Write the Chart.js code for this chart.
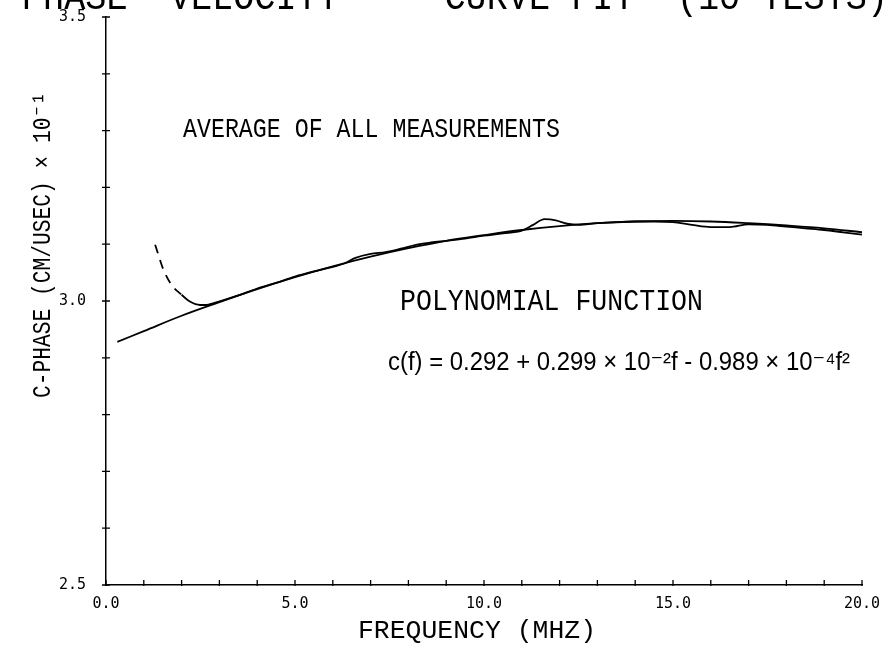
<!DOCTYPE html>
<html>
<head>
<meta charset="utf-8">
<title>Phase velocity - curve fit</title>
<script src="https://cdn.jsdelivr.net/npm/chart.js@4/dist/chart.umd.min.js"></script>
<style>
    html, body { margin: 0; padding: 0; background: #fff; }
    #wrap { width: 890px; height: 649px; position: relative; }
</style>
</head>
<body>
<div id="wrap"><canvas id="phaseChart"></canvas></div>
<script>
// Polynomial fit curve
const fitFreq = [0.3, 1, 2, 3, 4, 5, 6, 7, 8, 9, 10, 11, 12, 13, 14, 15, 16, 17, 18, 19, 20];
const fitVel = [2.928, 2.947, 2.974, 2.998, 3.021, 3.042, 3.061, 3.078, 3.093, 3.106, 3.116,
                3.125, 3.132, 3.137, 3.140, 3.141, 3.140, 3.137, 3.133, 3.128, 3.121];

// Average of all measurements
const avgFreq = [1.3, 1.52, 1.74, 2.0, 2.22, 2.49, 2.66, 2.83, 3.5, 4.0, 4.5, 5.0, 5.5, 6.0, 6.3,
                 6.6, 7.0, 7.4, 7.8, 8.2, 8.6, 9.0, 9.5, 10.0, 10.5, 11.0, 11.3, 11.6, 11.9, 12.2,
                 12.5, 13.0, 13.5, 14.0, 14.5, 15.0, 15.5, 16.0, 16.5, 17.0, 17.5, 18.0, 18.5,
                 19.0, 19.5, 20.0];
const avgVel = [3.099, 3.055, 3.028, 3.011, 2.999, 2.993, 2.993, 2.996, 3.010, 3.022, 3.032, 3.043,
                3.052, 3.060, 3.066, 3.076, 3.083, 3.086, 3.092, 3.099, 3.103, 3.106, 3.110, 3.115,
                3.119, 3.124, 3.134, 3.144, 3.142, 3.136, 3.134, 3.137, 3.139, 3.140, 3.140, 3.139,
                3.134, 3.130, 3.130, 3.135, 3.134, 3.131, 3.128, 3.125, 3.121, 3.117];
const dashedUntil = 2.0;

// Axis ticks
const xTickLabels = { 0: '0.0', 5: '5.0', 10: '10.0', 15: '15.0', 20: '20.0' };
const yTickLabels = { '2.5': '2.5', '3.0': '3.0', '3.5': '3.5' };

const MONO = '"Liberation Mono", "DejaVu Sans Mono", monospace';
const TICKFONT = '"DejaVu Sans Mono", monospace';
const SANS = '"Liberation Sans", "DejaVu Sans", sans-serif';

function toPoints(xs, ys) {
    return xs.map((x, i) => ({ x: x, y: ys[i] }));
}

// draw text at a given size, squeezed/stretched horizontally to span width
function drawFit(ctx, text, x, y, width, size, family) {
    ctx.font = size + 'px ' + family;
    const w = ctx.measureText(text).width;
    ctx.save();
    ctx.translate(x, y);
    ctx.scale(width / w, 1);
    ctx.fillText(text, 0, 0);
    ctx.restore();
}

const annotations = {
    id: 'annotations',
    afterDraw(chart) {
        const ctx = chart.ctx;
        const xs = chart.scales.x;
        const ys = chart.scales.y;
        ctx.save();
        ctx.fillStyle = '#000';
        ctx.strokeStyle = '#000';
        ctx.textBaseline = 'alphabetic';
        ctx.textAlign = 'left';

        // tick marks crossing the axes
        ctx.lineWidth = 1.3;
        ctx.beginPath();
        xs.ticks.forEach(t => {
            const px = xs.getPixelForValue(t.value);
            ctx.moveTo(px, ys.bottom + 1);
            ctx.lineTo(px, ys.bottom - 5);
        });
        ys.ticks.forEach(t => {
            const py = ys.getPixelForValue(t.value);
            ctx.moveTo(xs.left - 4, py);
            ctx.lineTo(xs.left + 4, py);
        });
        ctx.stroke();

        // title, cut off at the top edge
        drawFit(ctx, 'PHASE  VELOCITY  -  CURVE FIT  (10 TESTS)', 22, 9, 866, 38, MONO);

        drawFit(ctx, 'AVERAGE OF ALL MEASUREMENTS', 183, 137, 377, 27, MONO);
        drawFit(ctx, 'POLYNOMIAL FUNCTION', 400, 310, 303, 29, MONO);
        drawFit(ctx, 'c(f) = 0.292 + 0.299 \u00d7 10\u207b\u00b2f - 0.989 \u00d7 10\u207b\u2074f\u00b2', 388, 370, 462, 25, SANS);
        drawFit(ctx, 'FREQUENCY (MHZ)', 358, 638, 238, 26, MONO);

        // rotated y axis title
        ctx.translate(50, 398);
        ctx.rotate(-Math.PI / 2);
        drawFit(ctx, 'C-PHASE (CM/USEC) \u00d7 10\u207b\u00b9', 0, 0, 306, 26, MONO);
        ctx.restore();
    }
};

const ctx = document.getElementById('phaseChart');

new Chart(ctx, {
    type: 'line',
    data: {
        datasets: [
            {
                label: 'Polynomial function',
                data: toPoints(fitFreq, fitVel),
                borderColor: '#000',
                borderWidth: 1.8,
                pointRadius: 0,
                tension: 0.4,
                fill: false
            },
            {
                label: 'Average of all measurements',
                data: toPoints(avgFreq, avgVel),
                borderColor: '#000',
                borderWidth: 1.8,
                pointRadius: 0,
                cubicInterpolationMode: 'monotone',
                fill: false,
                segment: {
                    borderDash: c => c.p1.parsed.x <= dashedUntil ? [9, 7] : undefined
                }
            }
        ]
    },
    options: {
        responsive: true,
        maintainAspectRatio: false,
        animation: false,
        layout: { autoPadding: false, padding: { top: 17, right: 28, left: 0, bottom: 0 } },
        plugins: {
            legend: { display: false },
            tooltip: { enabled: false }
        },
        scales: {
            x: {
                type: 'linear',
                min: 0,
                max: 20,
                afterFit: s => { s.height = 64; s.paddingLeft = 0; s.paddingRight = 0; },
                border: { display: true, color: '#000', width: 1.5 },
                grid: { drawOnChartArea: false, drawTicks: false },
                ticks: {
                    stepSize: 1,
                    autoSkip: false,
                    maxRotation: 0,
                    padding: 10,
                    color: '#000',
                    font: { family: TICKFONT, size: 15 },
                    callback: v => xTickLabels[v] || ''
                }
            },
            y: {
                type: 'linear',
                min: 2.5,
                max: 3.5,
                afterFit: s => { s.width = 106; s.paddingTop = 0; s.paddingBottom = 0; },
                border: { display: true, color: '#000', width: 1.5 },
                grid: { drawOnChartArea: false, drawTicks: false },
                ticks: {
                    stepSize: 0.1,
                    autoSkip: false,
                    padding: 20,
                    color: '#000',
                    font: { family: TICKFONT, size: 15 },
                    callback: v => yTickLabels[v.toFixed(1)] || ''
                }
            }
        }
    },
    plugins: [annotations]
});
</script>
</body>
</html>
